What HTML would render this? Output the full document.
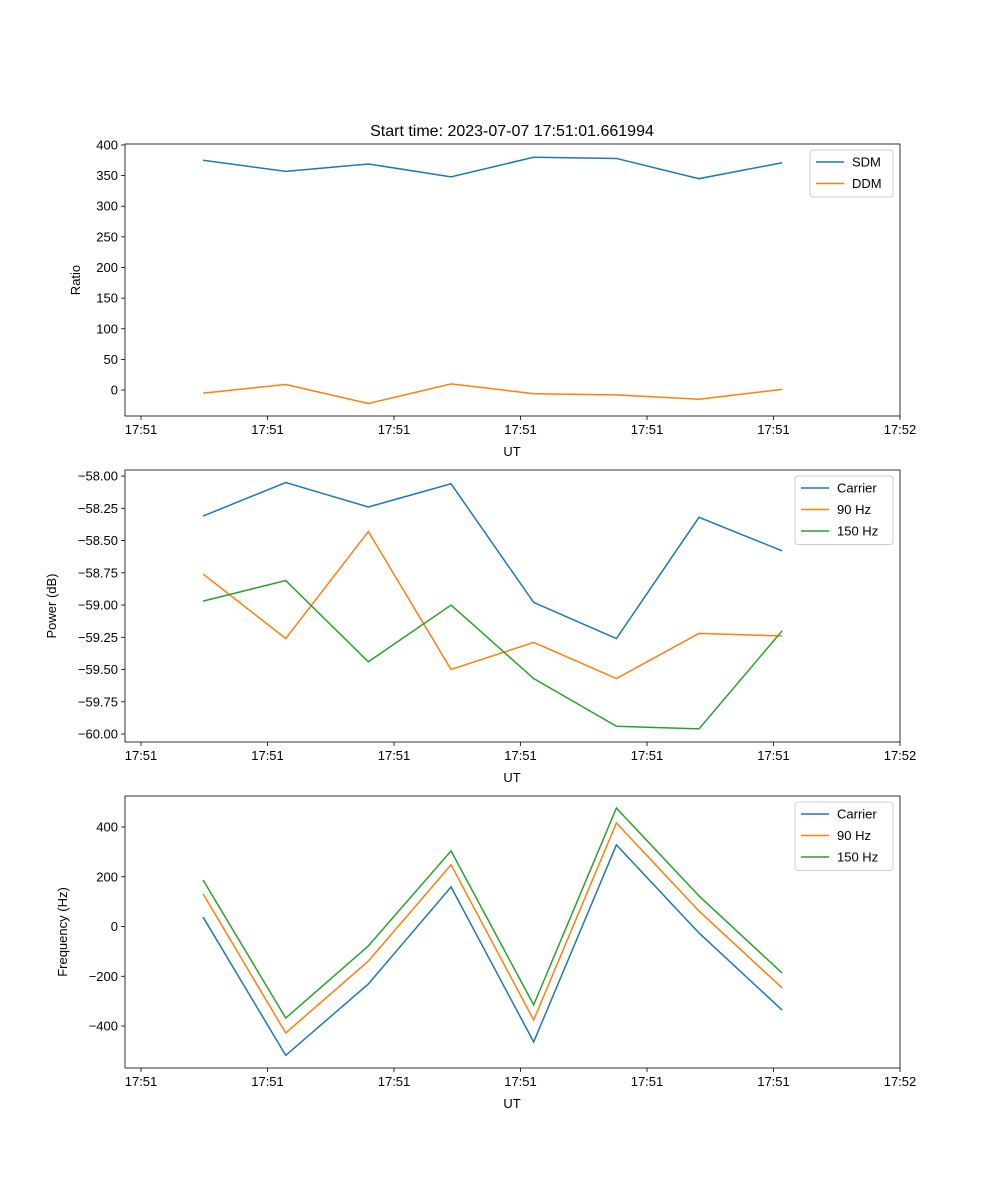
<!DOCTYPE html>
<html><head><meta charset="utf-8"><style>
body{margin:0;background:#fff}
svg{display:block;font-family:"Liberation Sans","DejaVu Sans",sans-serif}
</style></head><body>
<svg id="chart" width="1000" height="1200" xmlns="http://www.w3.org/2000/svg">
<rect width="1000" height="1200" fill="#fff"/>
<text x="512" y="136" font-size="16" text-anchor="middle">Start time: 2023-07-07 17:51:01.661994</text>
</svg>
<script>
const xTickVals=[0,1,2,3,4,5,6];
const xTickLabels=["17:51","17:51","17:51","17:51","17:51","17:51","17:52"];
const xPoints=[0.4905,1.144,1.797,2.451,3.104,3.758,4.411,5.068];
const sdm=[375,357,369,348,380,378,345,371];
const ddm=[-5,9,-22,10,-6,-8,-15,1];
const pwrCarrier=[-58.31,-58.05,-58.24,-58.06,-58.98,-59.26,-58.32,-58.58];
const pwr90=[-58.76,-59.26,-58.43,-59.50,-59.29,-59.57,-59.22,-59.24];
const pwr150=[-58.97,-58.81,-59.44,-59.00,-59.57,-59.94,-59.96,-59.20];
const frqCarrier=[38,-518,-231,159,-464,328,-26,-336];
const frq90=[131,-428,-139,248,-376,416,62,-247];
const frq150=[187,-368,-78,304,-315,476,123,-187];
const ratioTicks=[0,50,100,150,200,250,300,350,400];
const powerTicks=[-58,-58.25,-58.5,-58.75,-59,-59.25,-59.5,-59.75,-60];
const freqTicks=[-400,-200,0,200,400];

const svg=document.getElementById('chart');
const NS='http://www.w3.org/2000/svg';
function mk(tag,attrs,parent){const e=document.createElementNS(NS,tag);for(const k in attrs)e.setAttribute(k,attrs[k]);(parent||svg).appendChild(e);return e;}
const L=125,R=900,xMin=-0.1266,xMax=6.0;
const xs=v=>L+(v-xMin)/(xMax-xMin)*(R-L);
const C=['#1f77b4','#ff7f0e','#2ca02c'];

function panel(name,top,yMin,yMax,ticks,fmt,ylabel,series,names,legX,legW){
  const bot=top+272;
  const ys=v=>bot-(v-yMin)/(yMax-yMin)*272;
  const g=mk('g',{});
  
  
  series.forEach((s,i)=>{
    const p=mk('polyline',{points:s.map((v,j)=>xs(xPoints[j])+','+ys(v)).join(' '),fill:'none',stroke:C[i],'stroke-width':1.5},g);
    
    
  });
  const fr=mk('rect',{x:L,y:top,width:R-L,height:272,fill:'none',stroke:'#000','stroke-width':0.8},g);
  
  
  xTickVals.forEach((v,i)=>{
    mk('line',{x1:xs(v),x2:xs(v),y1:bot,y2:bot+4,stroke:'#000','stroke-width':0.8},g);
    const t=mk('text',{x:xs(v),y:bot+18,'font-size':13,'text-anchor':'middle'},g);t.textContent=xTickLabels[i];
    
    
  });
  ticks.forEach(v=>{
    mk('line',{x1:L-4,x2:L,y1:ys(v),y2:ys(v),stroke:'#000','stroke-width':0.8},g);
    const t=mk('text',{x:L-7,y:ys(v)+4.5,'font-size':13,'text-anchor':'end'},g);t.textContent=fmt(v);
    
    
  });
  const xl=mk('text',{x:512,y:bot+40,'font-size':13,'text-anchor':'middle'},g);xl.textContent='UT';
  
  
  const ylx=ylabel==='Ratio'?80:(ylabel==='Power (dB)'?56:67);
  const yl=mk('text',{x:ylx,y:top+136,'font-size':13,'text-anchor':'middle',transform:`rotate(-90 ${ylx} ${top+136})`},g);yl.textContent=ylabel;
  
  
  const lg=mk('g',{},g);
  
  
  mk('rect',{x:legX,y:top+6,width:legW,height:4+names.length*21.5,rx:3,fill:'#fff',stroke:'#ccc'},lg);
  names.forEach((n,i)=>{
    const yy=top+18+i*21.5;
    mk('line',{x1:legX+6,x2:legX+34,y1:yy,y2:yy,stroke:C[i],'stroke-width':1.5},lg);
    const t=mk('text',{x:legX+42,y:yy+4.5,'font-size':13},lg);t.textContent=n;
    
    
  });
}
panel('ratio',144,-42.4,401.6,ratioTicks,v=>String(v),'Ratio',[sdm,ddm],['SDM','DDM'],810,83);
panel('power',470,-60.062,-57.953,powerTicks,v=>'\u2212'+Math.abs(v).toFixed(2),'Power (dB)',[pwrCarrier,pwr90,pwr150],['Carrier','90 Hz','150 Hz'],795,98);
panel('frequency',796,-568.7,524.6,freqTicks,v=>v<0?'\u2212'+Math.abs(v):String(v),'Frequency (Hz)',[frqCarrier,frq90,frq150],['Carrier','90 Hz','150 Hz'],795,98);
</script>
</body></html>
